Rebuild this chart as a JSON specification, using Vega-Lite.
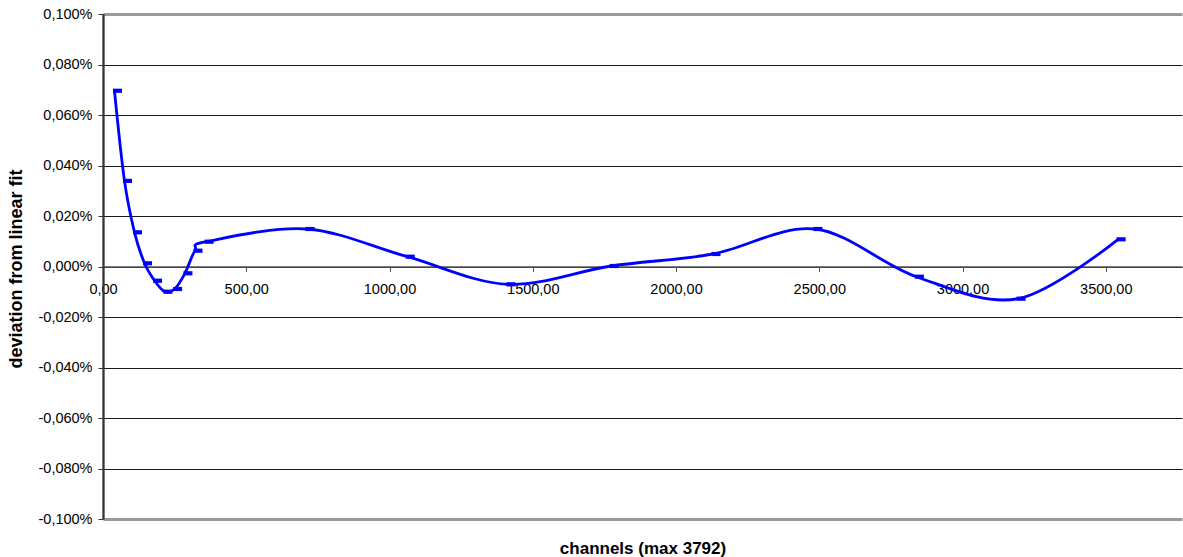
{
  "$schema": "https://vega.github.io/schema/vega-lite/v6.json",
  "width": 1079,
  "height": 505,
  "autosize": "none",
  "padding": {"left": 103, "top": 14, "right": 1, "bottom": 38},
  "background": "white",
  "config": {
    "view": {"stroke": null},
    "font": "Liberation Sans",
    "locale": {
      "number": {
        "decimal": ",",
        "thousands": ".",
        "grouping": [3],
        "currency": ["", " €"],
        "minus": "-"
      }
    }
  },
  "data": {
    "values": [
      {"channel": 40, "deviation": 0.000696},
      {"channel": 75, "deviation": 0.000339},
      {"channel": 110, "deviation": 0.0001354},
      {"channel": 145, "deviation": 0.0000127},
      {"channel": 180, "deviation": -0.0000562},
      {"channel": 216, "deviation": -0.0000998},
      {"channel": 250, "deviation": -0.0000891},
      {"channel": 286, "deviation": -0.0000269},
      {"channel": 321, "deviation": 0.0000626},
      {"channel": 360, "deviation": 0.0000982},
      {"channel": 712, "deviation": 0.0001485},
      {"channel": 1062, "deviation": 0.0000388},
      {"channel": 1413, "deviation": -0.0000705},
      {"channel": 1774, "deviation": 0.000002},
      {"channel": 2129, "deviation": 0.0000495},
      {"channel": 2485, "deviation": 0.0001485},
      {"channel": 2839, "deviation": -0.0000404},
      {"channel": 3194, "deviation": -0.0001275},
      {"channel": 3543, "deviation": 0.0001077}
    ]
  },
  "encoding": {
    "x": {
      "field": "channel",
      "type": "quantitative",
      "scale": {"domain": [0, 3766], "nice": false, "zero": false},
      "axis": {
        "title": "channels (max 3792)",
        "titleFontSize": 17,
        "titleFontWeight": "bold",
        "titleColor": "black",
        "titleBaseline": "alphabetic",
        "titleY": 286.5,
        "values": [0, 500, 1000, 1500, 2000, 2500, 3000, 3500],
        "format": ".2f",
        "offset": -252.5,
        "grid": false,
        "domainColor": "#555555",
        "domainWidth": 1.5,
        "tickColor": "#555555",
        "tickSize": 5,
        "labelFontSize": 14.5,
        "labelColor": "black",
        "labelBaseline": "alphabetic",
        "labelPadding": 22,
        "labelFlush": false,
        "labelOverlap": false
      }
    },
    "y": {
      "field": "deviation",
      "type": "quantitative",
      "scale": {"domain": [-0.001, 0.001], "nice": false},
      "axis": {
        "title": "deviation from linear fit",
        "titleFontSize": 18,
        "titleFontWeight": "bold",
        "titleColor": "black",
        "titleAngle": -90,
        "titleAlign": "center",
        "titleBaseline": "alphabetic",
        "titleX": -82,
        "titleY": 254.5,
        "values": [-0.001, -0.0008, -0.0006, -0.0004, -0.0002, 0, 0.0002, 0.0004, 0.0006, 0.0008, 0.001],
        "format": ".3%",
        "grid": true,
        "gridColor": {"condition": {"test": "abs(datum.value) > 0.00099", "value": "#9a9a9a"}, "value": "#1a1a1a"},
        "gridWidth": {"condition": {"test": "abs(datum.value) > 0.00099", "value": 3}, "value": 1},
        "domainColor": "#333333",
        "domainWidth": 2.3,
        "tickColor": "#333333",
        "tickSize": 5,
        "labelFontSize": 14.5,
        "labelColor": "black",
        "labelPadding": 6,
        "labelFlush": false,
        "labelOverlap": false
      }
    }
  },
  "layer": [
    {
      "mark": {"type": "line", "interpolate": "cardinal", "color": "#0000ff", "strokeWidth": 2.8}
    },
    {
      "mark": {
        "type": "point",
        "shape": "M-0.3,-0.42H1.5V0.42H-0.3Z",
        "size": 100,
        "filled": true,
        "color": "#0000ff",
        "opacity": 1,
        "strokeWidth": 0
      }
    }
  ]
}
